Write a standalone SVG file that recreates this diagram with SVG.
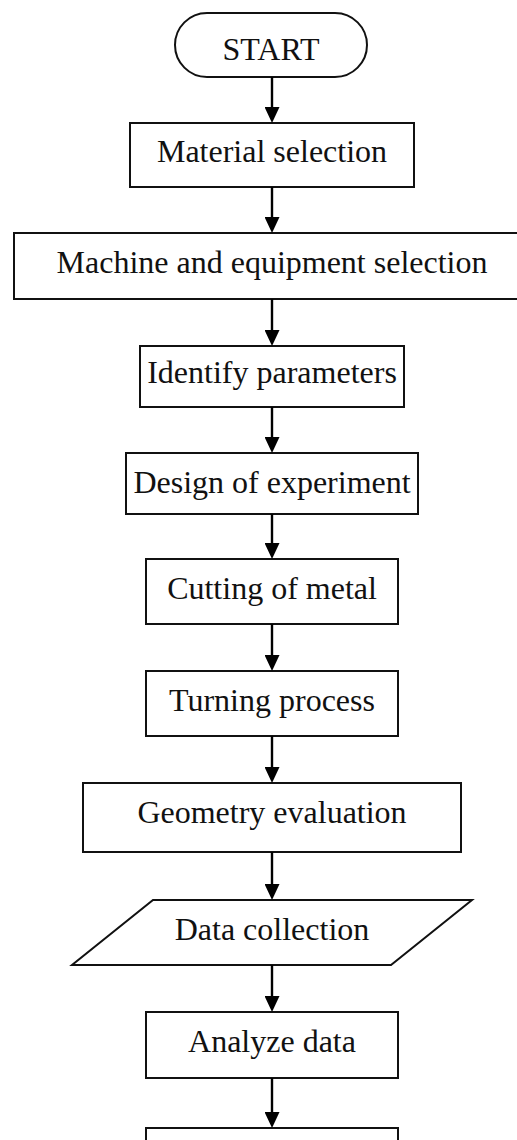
<svg xmlns="http://www.w3.org/2000/svg" width="517" height="1140" viewBox="0 0 517 1140">
  <style>
    .box { fill: #ffffff; stroke: #111111; stroke-width: 2; }
    .lbl { font-family: "Liberation Serif", "Times New Roman", serif; font-size: 32px; fill: #111111; text-anchor: middle; }
    .flow { stroke: #000000; stroke-width: 2.4; fill: none; marker-end: url(#head); }
  </style>
  <defs>
    <marker id="head" viewBox="0 0 16 15" refX="12" refY="7.5" markerWidth="16" markerHeight="15" markerUnits="userSpaceOnUse" orient="auto">
      <path d="M0,0 L16,7.5 L0,15 z" fill="#000000"/>
    </marker>
  </defs>
  <rect width="517" height="1140" fill="#ffffff"/>

  <!-- process steps -->
  <g id="start">
    <rect class="box" x="175" y="13" width="192" height="64" rx="32" ry="32"/>
    <text class="lbl" x="271" y="60">START</text>
  </g>
  <g id="material-selection">
    <rect class="box" x="130" y="123" width="284" height="64"/>
    <text class="lbl" x="272" y="162">Material selection</text>
  </g>
  <g id="machine-selection">
    <rect class="box" x="14" y="233" width="516" height="66"/>
    <text class="lbl" x="272" y="273">Machine and equipment selection</text>
  </g>
  <g id="identify-parameters">
    <rect class="box" x="140" y="346" width="264" height="61"/>
    <text class="lbl" x="272" y="383">Identify parameters</text>
  </g>
  <g id="design-of-experiment">
    <rect class="box" x="126" y="453" width="292" height="61"/>
    <text class="lbl" x="272" y="493">Design of experiment</text>
  </g>
  <g id="cutting-of-metal">
    <rect class="box" x="146" y="559" width="252" height="65"/>
    <text class="lbl" x="272" y="599">Cutting of metal</text>
  </g>
  <g id="turning-process">
    <rect class="box" x="146" y="671" width="252" height="65"/>
    <text class="lbl" x="272" y="711">Turning process</text>
  </g>
  <g id="geometry-evaluation">
    <rect class="box" x="83" y="783" width="378" height="69"/>
    <text class="lbl" x="272" y="823">Geometry evaluation</text>
  </g>
  <g id="data-collection">
    <polygon class="box" points="153,900 472,900 391,965 72,965"/>
    <text class="lbl" x="272" y="940">Data collection</text>
  </g>
  <g id="analyze-data">
    <rect class="box" x="146" y="1012" width="252" height="66"/>
    <text class="lbl" x="272" y="1052">Analyze data</text>
  </g>
  <g id="next-step">
    <rect class="box" x="146" y="1128" width="252" height="66"/>
  </g>

  <!-- connectors -->
  <g id="connectors">
    <line class="flow" x1="272" y1="77" x2="272" y2="119"/>
    <line class="flow" x1="272" y1="187" x2="272" y2="229"/>
    <line class="flow" x1="272" y1="299" x2="272" y2="342"/>
    <line class="flow" x1="272" y1="407" x2="272" y2="449"/>
    <line class="flow" x1="272" y1="514" x2="272" y2="555"/>
    <line class="flow" x1="272" y1="624" x2="272" y2="667"/>
    <line class="flow" x1="272" y1="736" x2="272" y2="779"/>
    <line class="flow" x1="272" y1="852" x2="272" y2="896"/>
    <line class="flow" x1="272" y1="965" x2="272" y2="1008"/>
    <line class="flow" x1="272" y1="1078" x2="272" y2="1124"/>
  </g>
</svg>
